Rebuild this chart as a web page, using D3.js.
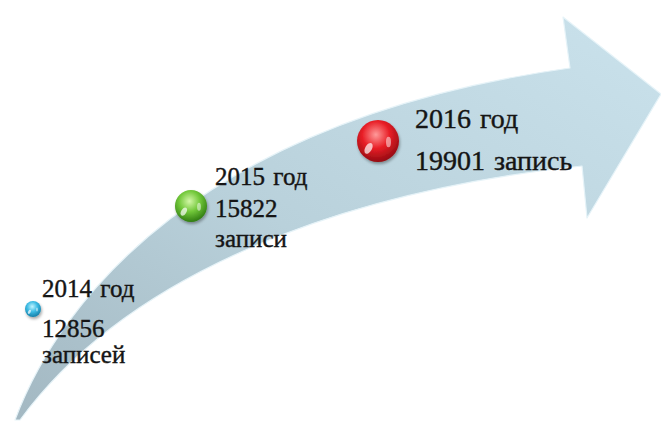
<!DOCTYPE html>
<html>
<head>
<meta charset="utf-8">
<script src="https://cdn.jsdelivr.net/npm/d3@7/dist/d3.min.js"></script>
<style>
  html, body { margin: 0; padding: 0; background: #ffffff; }
  svg { display: block; }
</style>
</head>
<body>
<svg id="chart" width="661" height="421"></svg>
<script>
// ---- data ----
const years = [2014, 2015, 2016];
const yearLabels = ["2014 год", "2015 год", "2016 год"];
const counts = [12856, 15822, 19901];
const countWords = ["записей", "записи", "запись"];
const sphereColors = [
  ["#c2f4ff", "#3cbbe4", "#157fa8"],
  ["#d4f7a8", "#72c83a", "#307c12"],
  ["#ff9a9a", "#e81e26", "#940b12"]
];

const svg = d3.select("#chart");
const FONT = "Liberation Serif";

// ---- scales (position along the rising arrow) ----
const x = d3.scaleLinear().domain(years).range([33, 191, 378]);
const y = d3.scaleLinear().domain(counts).range([309, 206, 141]);
const r = d3.scaleLinear().domain(counts).range([8, 16, 21]);

const defs = svg.append("defs");

// arrow gradient
const ag = defs.append("linearGradient").attr("id", "arrowGrad")
  .attr("x1", "0").attr("y1", "1").attr("x2", "1").attr("y2", "0");
ag.append("stop").attr("offset", "0").attr("stop-color", "#a3b8c2");
ag.append("stop").attr("offset", "0.45").attr("stop-color", "#b9d1db");
ag.append("stop").attr("offset", "1").attr("stop-color", "#cae2ec");

const blur = defs.append("filter").attr("id", "shadow")
  .attr("x", "-50%").attr("y", "-50%").attr("width", "200%").attr("height", "200%");
blur.append("feGaussianBlur").attr("in", "SourceAlpha").attr("stdDeviation", 1.6);
blur.append("feOffset").attr("dx", 1).attr("dy", 2).attr("result", "ob");
blur.append("feComponentTransfer").append("feFuncA").attr("type", "linear").attr("slope", 0.35);
const fm = blur.append("feMerge");
fm.append("feMergeNode");
fm.append("feMergeNode").attr("in", "SourceGraphic");

// ---- arrow shape ----
const p = d3.path();
p.moveTo(15, 420);
p.bezierCurveTo(60, 300, 200, 120, 570, 68);   // upper edge of shaft
p.lineTo(563, 17);                            // head top
p.lineTo(661, 94);                            // tip
p.lineTo(587, 218);                           // head bottom
p.lineTo(582, 166);                           // lower notch
p.bezierCurveTo(350, 190, 130, 270, 20, 420); // lower edge of shaft
p.closePath();

svg.append("path")
  .attr("d", p.toString())
  .attr("fill", "url(#arrowGrad)")
  .attr("stroke", "#e6f3f8")
  .attr("stroke-width", 1.2)
  .attr("stroke-linejoin", "round");

// ---- spheres ----
const nodes = years.map((yr, i) => ({ yr, count: counts[i], label: yearLabels[i], word: countWords[i], i }));

nodes.forEach(d => {
  const c = sphereColors[d.i];
  const g = defs.append("radialGradient").attr("id", "sph" + d.i)
    .attr("cx", "0.45").attr("cy", "0.35").attr("r", "0.65");
  g.append("stop").attr("offset", "0").attr("stop-color", c[0]);
  g.append("stop").attr("offset", "0.5").attr("stop-color", c[1]);
  g.append("stop").attr("offset", "1").attr("stop-color", c[2]);
});

const sph = svg.selectAll("g.sphere").data(nodes).join("g").attr("class", "sphere");
sph.append("circle")
  .attr("cx", d => x(d.yr)).attr("cy", d => y(d.count)).attr("r", d => r(d.count))
  .attr("fill", d => "url(#sph" + d.i + ")")
  .attr("filter", "url(#shadow)");
// specular highlights
sph.append("ellipse")
  .attr("cx", d => x(d.yr) - r(d.count) * 0.45).attr("cy", d => y(d.count) + r(d.count) * 0.35)
  .attr("rx", d => r(d.count) * 0.16).attr("ry", d => r(d.count) * 0.28)
  .attr("transform", d => `rotate(30,${x(d.yr) - r(d.count) * 0.45},${y(d.count) + r(d.count) * 0.35})`)
  .attr("fill", "#ffffff").attr("opacity", 0.7);
sph.append("ellipse")
  .attr("cx", d => x(d.yr) + r(d.count) * 0.5).attr("cy", d => y(d.count) + r(d.count) * 0.05)
  .attr("rx", d => r(d.count) * 0.12).attr("ry", d => r(d.count) * 0.25)
  .attr("fill", "#ffffff").attr("opacity", 0.5);

// ---- labels ----
// layout: text offsets relative to sphere centre
const labelLayout = [
  { dx: 9, size: 25, lines: [-12, 28, 54], split: true },
  { dx: 24, size: 25, lines: [-21, 11, 41], split: true },
  { dx: 37, size: 28, lines: [-13, 29], split: false }
];

nodes.forEach(d => {
  const L = labelLayout[d.i];
  const tx = x(d.yr) + L.dx, ty = y(d.count);
  const lines = L.split ? [d.label, String(d.count), d.word] : [d.label, d.count + " " + d.word];
  lines.forEach((s, k) => {
    svg.append("text")
      .attr("x", tx).attr("y", ty + L.lines[k])
      .attr("font-family", FONT)
      .attr("font-size", L.size)
      .attr("fill", "#151515")
      .attr("stroke", "#151515")
      .attr("stroke-width", 0.4)
      .attr("word-spacing", 2)
      .text(s);
  });
});
</script>
</body>
</html>
